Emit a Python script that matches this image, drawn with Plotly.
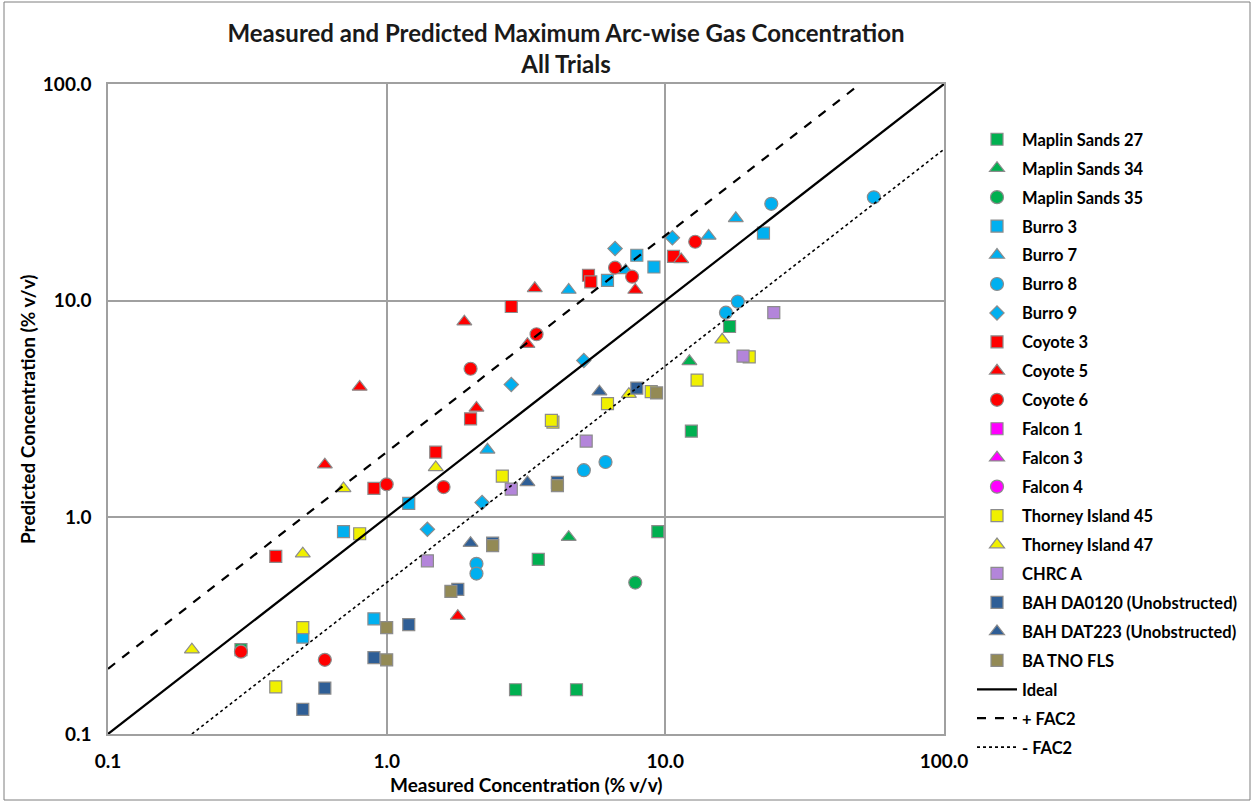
import plotly.graph_objects as go

# ---------------- data ----------------
maplin27_x = [0.3, 2.9, 3.5, 4.8, 9.4, 12.4, 17.0]
maplin27_y = [0.245, 0.16, 0.64, 0.16, 0.86, 2.5, 7.6]
maplin34_x = [4.5, 12.2]
maplin34_y = [0.81, 5.25]
maplin35_x = [7.8]
maplin35_y = [0.5]
burro3_x = [0.5, 0.7, 0.9, 1.2, 6.2, 7.9, 9.1, 22.5]
burro3_y = [0.28, 0.86, 0.34, 1.16, 12.4, 16.2, 14.3, 20.5]
burro7_x = [2.3, 4.5, 7.2, 14.3, 17.9]
burro7_y = [2.05, 11.2, 13.8, 19.9, 24.0]
burro8_x = [2.1, 2.1, 5.1, 6.1, 16.5, 18.2, 24.0, 56.0]
burro8_y = [0.61, 0.55, 1.65, 1.8, 8.8, 9.9, 28.0, 30.0]
burro9_x = [1.4, 2.2, 2.8, 5.1, 6.6, 10.6]
burro9_y = [0.88, 1.17, 4.1, 5.3, 17.4, 19.5]
coyote3_x = [0.4, 0.9, 1.5, 2.0, 2.8, 5.3, 5.4, 10.7]
coyote3_y = [0.66, 1.36, 2.0, 2.85, 9.4, 13.1, 12.2, 16.0]
coyote5_x = [0.6, 0.8, 1.8, 1.9, 2.1, 3.2, 3.4, 7.8, 11.4]
coyote5_y = [1.75, 4.0, 0.35, 8.0, 3.2, 6.3, 11.4, 11.2, 15.5]
coyote6_x = [0.3, 0.6, 1.0, 1.6, 2.0, 3.45, 6.6, 7.6, 12.8]
coyote6_y = [0.24, 0.22, 1.42, 1.38, 4.85, 7.0, 14.2, 12.9, 18.7]
falcon1_x, falcon1_y = [None], [None]
falcon3_x, falcon3_y = [None], [None]
falcon4_x, falcon4_y = [None], [None]
thorney45_x = [0.4, 0.5, 0.8, 2.6, 3.95, 3.9, 6.2, 8.9, 13.0, 20.0]
thorney45_y = [0.165, 0.31, 0.84, 1.55, 2.75, 2.8, 3.35, 3.8, 4.3, 5.5]
thorney47_x = [0.2, 0.5, 0.7, 1.5, 7.4, 16.0]
thorney47_y = [0.245, 0.68, 1.36, 1.7, 3.7, 6.6]
chrca_x = [1.4, 2.8, 5.2, 19.0, 24.5]
chrca_y = [0.63, 1.35, 2.25, 5.55, 8.8]
bah0120_x = [0.5, 0.6, 0.9, 1.2, 1.8, 2.4, 4.1, 7.9]
bah0120_y = [0.13, 0.163, 0.225, 0.32, 0.465, 0.76, 1.45, 3.95]
bah223_x = [2.0, 3.2, 5.8]
bah223_y = [0.76, 1.45, 3.8]
tno_x = [1.0, 1.0, 1.7, 2.4, 4.1, 9.3]
tno_y = [0.22, 0.31, 0.455, 0.74, 1.4, 3.75]

ideal_x = [0.1, 100]
ideal_y = [0.1, 100]
fac2p_x = [0.1, 50]
fac2p_y = [0.2, 100]
fac2m_x = [0.2, 100]
fac2m_y = [0.1, 50]

tick_vals = [0.1, 1, 10, 100]
tick_text = ["0.1", "1.0", "10.0", "100.0"]

GREEN = "#00B050"
BLUE = "#00B0F0"
RED = "#FF0000"
MAG = "#FF00FF"
YEL = "#F0F000"
PURP = "#B385DA"
DBLUE = "#2E5E96"
OLIVE = "#938A55"
EDGE = "#8C8C8C"

series = [
    ("Maplin Sands 27", maplin27_x, maplin27_y, "square", GREEN, 12),
    ("Maplin Sands 34", maplin34_x, maplin34_y, "triangle-up", GREEN, 13),
    ("Maplin Sands 35", maplin35_x, maplin35_y, "circle", GREEN, 13),
    ("Burro 3", burro3_x, burro3_y, "square", BLUE, 12),
    ("Burro 7", burro7_x, burro7_y, "triangle-up", BLUE, 13),
    ("Burro 8", burro8_x, burro8_y, "circle", BLUE, 13),
    ("Burro 9", burro9_x, burro9_y, "diamond", BLUE, 11),
    ("Coyote 3", coyote3_x, coyote3_y, "square", RED, 12),
    ("Coyote 5", coyote5_x, coyote5_y, "triangle-up", RED, 13),
    ("Coyote 6", coyote6_x, coyote6_y, "circle", RED, 13),
    ("Falcon 1", falcon1_x, falcon1_y, "square", MAG, 12),
    ("Falcon 3", falcon3_x, falcon3_y, "triangle-up", MAG, 13),
    ("Falcon 4", falcon4_x, falcon4_y, "circle", MAG, 13),
    ("Thorney Island 45", thorney45_x, thorney45_y, "square", YEL, 12),
    ("Thorney Island 47", thorney47_x, thorney47_y, "triangle-up", YEL, 13),
    ("CHRC A", chrca_x, chrca_y, "square", PURP, 12),
    ("BAH DA0120 (Unobstructed)", bah0120_x, bah0120_y, "square", DBLUE, 12),
    ("BAH DAT223 (Unobstructed)", bah223_x, bah223_y, "triangle-up", DBLUE, 13),
    ("BA TNO FLS", tno_x, tno_y, "square", OLIVE, 12),
]

fig = go.Figure()
for i, (name, xs, ys, sym, col, sz) in enumerate(series):
    fig.add_trace(go.Scatter(
        x=xs, y=ys, mode="markers", name=name, legendgroup=f"g{i}",
        marker=dict(symbol=sym, color=col, size=sz, line=dict(color=EDGE, width=1.2)),
    ))

fig.add_trace(go.Scatter(x=ideal_x, y=ideal_y, mode="lines", name="Ideal", legendgroup="l1",
                         line=dict(color="black", width=2.2)))
fig.add_trace(go.Scatter(x=fac2p_x, y=fac2p_y, mode="lines", name="+ FAC2", legendgroup="l2",
                         line=dict(color="black", width=2.2, dash="dash")))
fig.add_trace(go.Scatter(x=fac2m_x, y=fac2m_y, mode="lines", name="- FAC2", legendgroup="l3",
                         line=dict(color="black", width=1.6, dash="dot")))

FONT = "Lato"
axis_common = dict(
    type="log", tickvals=tick_vals, ticktext=tick_text, automargin=False,
    showgrid=True, gridcolor="#A0A0A0", gridwidth=1.5,
    showline=True, linecolor="#A0A0A0", linewidth=1.5, mirror=True,
    zeroline=False, ticks="",
    tickfont=dict(family=FONT, size=19, color="black", weight="bold"),
)

fig.update_layout(
    width=1254, height=803,
    paper_bgcolor="white", plot_bgcolor="white",
    margin=dict(l=108, r=310, t=84, b=69, autoexpand=False),
    font=dict(family=FONT, color="black"),
    title=dict(
        text="Measured and Predicted Maximum Arc-wise Gas Concentration<br>All Trials",
        x=(566 - 108) / 836, xref="paper", xanchor="center",
        y=0.948, yref="container", yanchor="top",
        font=dict(family=FONT, size=24, color="#1a1a1a", weight="bold"),
    ),
    xaxis=dict(range=[-1, 2], ticklabelstandoff=9, **axis_common),
    yaxis=dict(range=[-1, 2], ticklabelstandoff=11, **axis_common),
    legend=dict(
        x=(972 - 108) / 836, xanchor="left", y=(734 - 122) / 650, yanchor="top",
        font=dict(family=FONT, size=16.5, color="black", weight="bold"),
        itemwidth=40, tracegroupgap=4.5, bgcolor="rgba(0,0,0,0)", maxheight=760,
    ),
    showlegend=True,
)

# axis titles
fig.add_annotation(text="<b>Measured Concentration (% v/v)</b>", xref="paper", yref="paper",
                   x=0.5, y=(734 - 784) / 650, xanchor="center", yanchor="middle",
                   showarrow=False, font=dict(family=FONT, size=19, color="black"))
fig.add_annotation(text="<b>Predicted Concentration (% v/v)</b>", xref="paper", yref="paper",
                   x=(27 - 108) / 836, y=0.5, xanchor="center", yanchor="middle", textangle=-90,
                   showarrow=False, font=dict(family=FONT, size=19, color="black"))

# outer chart border
fig.add_shape(type="rect", xref="paper", yref="paper",
              x0=(4 - 108) / 836, x1=(1250 - 108) / 836,
              y0=(734 - 800) / 650, y1=(734 - 2) / 650,
              line=dict(color="#7F7F7F", width=1), fillcolor="rgba(0,0,0,0)", layer="below")

fig.write_html("out.html", config={"displayModeBar": False},
               post_script="document.body.style.margin='0';document.body.style.overflow='hidden';")
